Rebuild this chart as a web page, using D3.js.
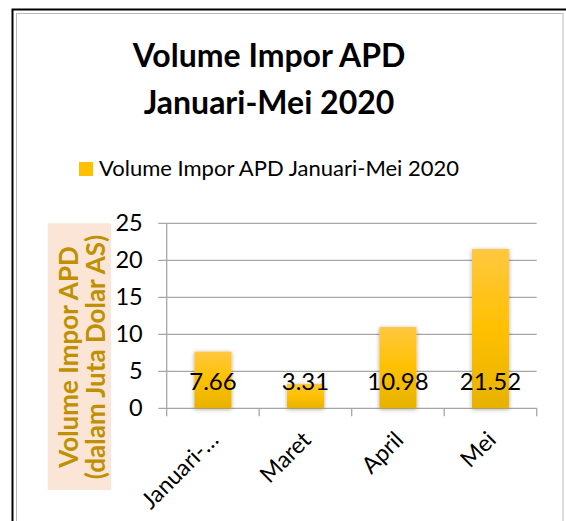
<!DOCTYPE html>
<html><head><meta charset="utf-8">
<script src="https://cdn.jsdelivr.net/npm/d3@7"></script>
<style>body{margin:0;background:#fff;} svg{display:block;}</style>
</head><body>
<svg id="c" width="566" height="521"></svg>
<script>
const categories = ["Januari-…", "Maret", "April", "Mei"];
const values = [7.66, 3.31, 10.98, 21.52];
const yTicks = [0, 5, 10, 15, 20, 25];
const titleLines = ["Volume Impor APD", "Januari-Mei 2020"];
const legendLabel = "Volume Impor APD Januari-Mei 2020";
const yTitleLines = ["Volume Impor APD", "(dalam Juta Dolar AS)"];

const svg = d3.select("#c");
const FONT = "Lato, 'Open Sans', sans-serif";

// frame
svg.append("rect").attr("x",12.5).attr("y",9.5).attr("width",580).attr("height",560)
  .attr("fill","none").attr("stroke","#000").attr("stroke-width",2);
svg.append("rect").attr("x",16.5).attr("y",13.5).attr("width",546.5).attr("height",560)
  .attr("fill","none").attr("stroke","#bbb").attr("stroke-width",1);

const plot = {left:166.7, right:536.7, top:223.3, bottom:408.3};
const x = d3.scaleBand().domain(categories).range([plot.left, plot.right]).paddingInner(0.6).paddingOuter(0.3);
const xb = d3.scaleBand().domain(categories).range([plot.left, plot.right]);
const y = d3.scaleLinear().domain([0,25]).range([plot.bottom, plot.top]);

// defs
const defs = svg.append("defs");
const g = defs.append("linearGradient").attr("id","barg").attr("x1",0).attr("y1",0).attr("x2",0).attr("y2",1);
g.append("stop").attr("offset","0%").attr("stop-color","#FFC840");
g.append("stop").attr("offset","50%").attr("stop-color","#FFC000");
g.append("stop").attr("offset","100%").attr("stop-color","#E6B200");
const f = defs.append("filter").attr("id","sh").attr("x","-30%").attr("y","-30%").attr("width","160%").attr("height","160%");
f.append("feDropShadow").attr("dx",0).attr("dy",1).attr("stdDeviation",2).attr("flood-color","#000").attr("flood-opacity",0.35);

// gridlines
const yAxis = d3.axisLeft(y).tickValues(yTicks).tickSize(0).tickPadding(0);
svg.append("g").selectAll("line").data(yTicks).join("line")
  .attr("x1",plot.left-8.4).attr("x2",plot.right)
  .attr("y1",d=>y(d)).attr("y2",d=>y(d))
  .attr("stroke","#A6A6A6").attr("stroke-width",1.3);
// y axis line
svg.append("line").attr("x1",plot.left).attr("x2",plot.left).attr("y1",plot.top).attr("y2",plot.bottom)
  .attr("stroke","#A6A6A6").attr("stroke-width",1.3);
// category ticks
const tickPos = categories.map(c=>xb(c)).concat([plot.right]);
svg.append("g").selectAll("line").data(tickPos).join("line")
  .attr("x1",d=>d).attr("x2",d=>d).attr("y1",plot.bottom).attr("y2",plot.bottom+8)
  .attr("stroke","#A6A6A6").attr("stroke-width",1.3);

// y tick labels via axis
const ya = svg.append("g").attr("transform",`translate(${plot.left-24},0)`).call(yAxis);
ya.select(".domain").remove();
ya.selectAll("text").attr("font-family",FONT).attr("font-size",23.5).attr("fill","#000");

// bars
svg.append("g").selectAll("rect").data(values).join("rect")
  .attr("x",(d,i)=>x(categories[i])).attr("width",x.bandwidth())
  .attr("y",d=>y(d)).attr("height",d=>y(0)-y(d))
  .attr("fill","url(#barg)").attr("filter","url(#sh)");

// data labels
svg.append("g").selectAll("text").data(values).join("text")
  .attr("x",(d,i)=>xb(categories[i])+xb.bandwidth()/2).attr("y",plot.bottom-18)
  .attr("text-anchor","middle").attr("font-family",FONT).attr("font-size",24).attr("fill","#000")
  .text(d=>d.toFixed(2));

// x labels
svg.append("g").selectAll("text").data(categories).join("text")
  .attr("transform",d=>`translate(${xb(d)+xb.bandwidth()/2+7},${plot.bottom+33}) rotate(-45)`)
  .attr("text-anchor","end").attr("font-family",FONT).attr("font-size",23).attr("fill","#000")
  .text(d=>d);

// title
svg.append("g").selectAll("text").data(titleLines).join("text")
  .attr("x",269).attr("y",(d,i)=>67+i*47).attr("text-anchor","middle")
  .attr("font-family",FONT).attr("font-weight","bold").attr("font-size",32).attr("fill","#000")
  .text(d=>d);

// legend
svg.append("rect").attr("x",79).attr("y",162).attr("width",14).attr("height",14).attr("fill","#FFC000");
svg.append("text").attr("x",99).attr("y",175.5).attr("font-family",FONT).attr("font-size",22).attr("fill","#000").text(legendLabel);

// y title
svg.append("rect").attr("x",47.7).attr("y",223.3).attr("width",63.3).attr("height",266.7).attr("fill","#FBE5D6");
svg.append("g").attr("transform","translate(0,357) rotate(-90)")
  .selectAll("text").data(yTitleLines).join("text")
  .attr("x",0).attr("y",(d,i)=>78+i*27).attr("text-anchor","middle")
  .attr("font-family",FONT).attr("font-weight","bold").attr("font-size",26).attr("fill","#BF9000")
  .text(d=>d);
</script>
</body></html>
